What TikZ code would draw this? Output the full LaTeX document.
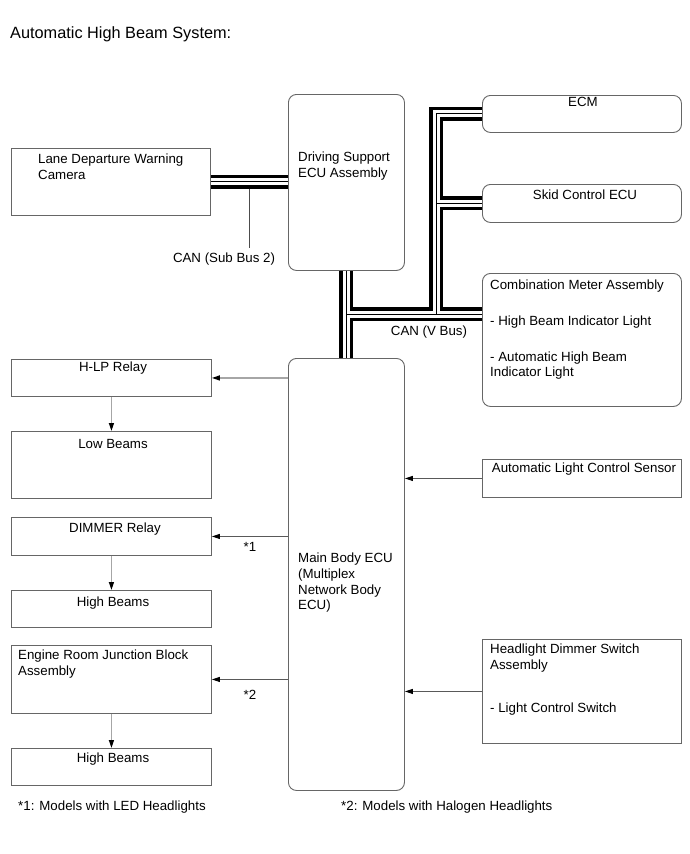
\documentclass[tikz,border=0pt]{standalone}
\usepackage{fontspec}
\setmainfont{Liberation Sans}
\usetikzlibrary{calc,arrows.meta,backgrounds}

\begin{document}
\begin{tikzpicture}[x=1pt,y=-1pt,
  box/.style={draw=black!60,line width=0.9pt,fill=white,anchor=north west,inner sep=0pt},
  rbox/.style={box,rounded corners=8pt},
  txt/.style={inner sep=0pt,font=\fontsize{13.3}{15.7}\selectfont,align=left},
  arr/.style={draw=black!65,line width=0.9pt,-{Triangle[length=8pt,width=5pt,color=black]}},
  arrl/.style={arr,draw=black!35,line width=1.4pt}]
\path[use as bounding box] (0,0) rectangle (690,854);
\node[txt,anchor=north west] (title) at (10,26) {\fontsize{16.3}{19}\selectfont Automatic High Beam System:};
% units and buses
\node[box,minimum width=199pt,minimum height=67pt] (cam) at (11,148) {};
\node[rbox,minimum width=116pt,minimum height=176pt] (dsecu) at (288,94) {};
\node[rbox,minimum width=199pt,minimum height=37pt] (ecm) at (482,95) {};
\node[rbox,minimum width=199pt,minimum height=38pt] (skid) at (482,184) {};
\node[rbox,minimum width=199pt,minimum height=133pt] (comb) at (482,273) {};
\node[rbox,minimum width=116pt,minimum height=432pt] (main) at (288,358) {};
% outputs
\node[box,minimum width=200pt,minimum height=37pt] (hlp) at (11,359) {};
\node[box,minimum width=200pt,minimum height=67pt] (low) at (11,431) {};
\node[box,minimum width=200pt,minimum height=38pt] (dimmer) at (11,517) {};
\node[box,minimum width=200pt,minimum height=37pt] (high) at (11,590) {};
\node[box,minimum width=200pt,minimum height=68pt] (erjb) at (11,645) {};
\node[box,minimum width=200pt,minimum height=37pt] (highb) at (11,748) {};
% inputs
\node[box,minimum width=199pt,minimum height=38pt] (alcs) at (482,459) {};
\node[box,minimum width=199pt,minimum height=104pt] (hdsw) at (482,639) {};
% texts
\node[txt,anchor=north west] (camtxt) at (38,154) {Lane Departure Warning\\Camera};
\node[txt,anchor=north west] (dsecutxt) at (298,152) {Driving Support\\ECU Assembly};
\node[txt,anchor=north] (ecmtxt) at (583,97) {ECM};
\node[txt,anchor=north] (skidtxt) at (585,190) {Skid Control ECU};
\node[txt,anchor=north west] (combtxt) at (490,280) {Combination Meter Assembly\\[20pt]- High Beam Indicator Light\\[20pt]- Automatic High Beam\\Indicator Light};
\node[txt,anchor=north] (hlptxt) at (113,362) {H-LP Relay};
\node[txt,anchor=north] (lowtxt) at (113,439) {Low Beams};
\node[txt,anchor=north] (dimtxt) at (115,523) {DIMMER Relay};
\node[txt,anchor=north] (hightxt) at (113,597) {High Beams};
\node[txt,anchor=north west] (erjbtxt) at (18,650) {Engine Room Junction Block\\Assembly};
\node[txt,anchor=north] (highbtxt) at (113,753) {High Beams};
\node[txt,anchor=north west] (maintxt) at (298,553) {Main Body ECU\\(Multiplex\\Network Body\\ECU)};
\node[txt,anchor=north] (alcstxt) at (584,463) {Automatic Light Control Sensor};
\node[txt,anchor=north west] (hdswtxt) at (490,644) {Headlight Dimmer Switch\\Assembly\\[27pt]- Light Control Switch};
\node[txt,anchor=north] (subbus) at (224,253) {CAN (Sub Bus 2)};
\node[txt,anchor=north] (vbus) at (429,326) {CAN (V Bus)};
\node[txt,anchor=north] (n1) at (250,542) {*1};
\node[txt,anchor=north] (n2) at (250,690) {*2};
\node[txt,anchor=north west] (note1) at (18,801) {*1: Models with LED Headlights};
\node[txt,anchor=north west] (note2) at (341,801) {*2: Models with Halogen Headlights};
% signal lines
\draw[arrl] (main.west |- hlp.east) -- (hlp.east);
\draw[arr] (main.west |- dimmer.east) -- (dimmer.east);
\draw[arr] (main.west |- erjb.east) -- (erjb.east);
\draw[arr] (alcs.west) -- (alcs.west -| main.east);
\draw[arr] (hdsw.west) -- (hdsw.west -| main.east);
\draw[arrl] (hlp.south) -- (low.north);
\draw[arrl] (dimmer.south) -- (high.north);
\draw[arrl] (erjb.south) -- (highb.north);
% CAN lines
\coordinate (subtap) at (249,182);
\coordinate (vjoin) at (346,314);
\coordinate (vtap) at (436,314);
\begin{scope}[on background layer]
\fill[white] (0,0) rectangle (690,854);
\draw[black!70,line width=0.9pt,shorten >=5pt] (subtap) -- (subtap |- subbus.north);
\foreach \w/\c in {14pt/black,7pt/white,1pt/black}
  \draw[line width=\w,color=\c] (cam.east) -- (cam.east -| dsecu.west)
    (dsecu.south) -- (main.north)
    (vjoin) -- (vjoin -| comb.west)
    (vtap) |- (ecm.west)
    (vtap |- skid.west) -- (skid.west);
\end{scope}
\end{tikzpicture}
\end{document}
